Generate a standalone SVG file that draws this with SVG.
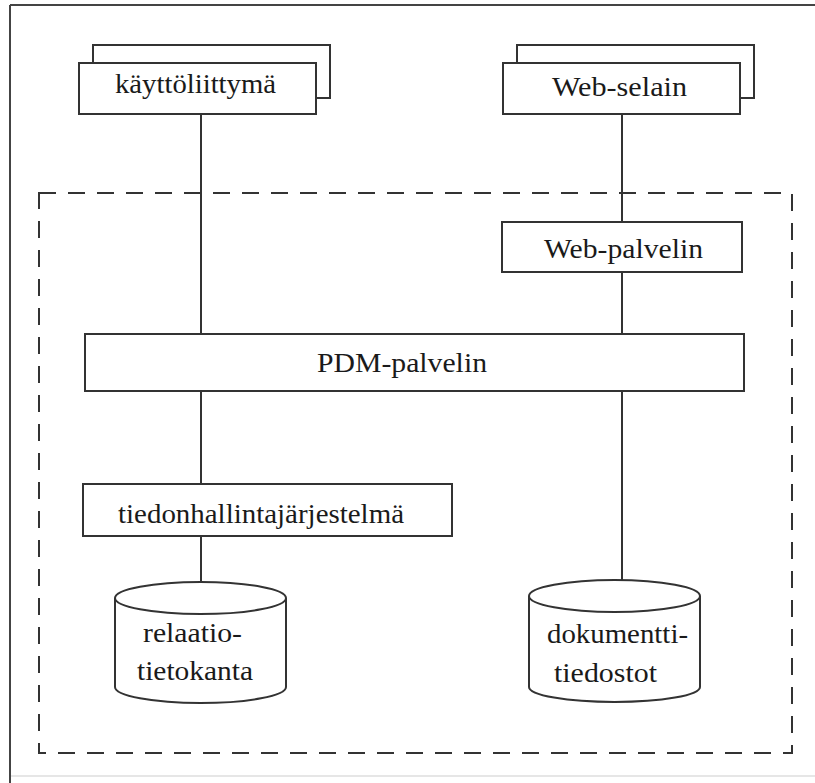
<svg xmlns="http://www.w3.org/2000/svg" width="815" height="783" viewBox="0 0 815 783">
  <style>
    .box { fill: #ffffff; stroke: #333333; stroke-width: 2; }
    .line { stroke: #333333; stroke-width: 2; fill: none; }
    .dash { stroke: #333333; stroke-width: 2; fill: none; stroke-dasharray: 17 12; }
    .lbl { font-family: 'Liberation Serif', 'DejaVu Serif', serif; font-size: 28px; fill: #1a1a1a; }
  </style>
  <rect x="0" y="0" width="815" height="783" fill="#ffffff"/>
  <g id="frame">
    <line x1="10" y1="5" x2="815" y2="5" stroke="#444444" stroke-width="2"/>
    <line x1="10" y1="5" x2="10" y2="783" stroke="#444444" stroke-width="2"/>
    <line x1="11" y1="776" x2="815" y2="776" stroke="#e6e6e6" stroke-width="2"/>
  </g>
  <g id="boundary">
    <rect class="dash" x="39" y="193" width="753" height="560"/>
  </g>
  <g id="connectors">
    <line class="line" x1="201" y1="114" x2="201" y2="334"/>
    <line class="line" x1="622" y1="114" x2="622" y2="222"/>
    <line class="line" x1="622" y1="272" x2="622" y2="334"/>
    <line class="line" x1="201" y1="391" x2="201" y2="484"/>
    <line class="line" x1="201" y1="536" x2="201" y2="582"/>
    <line class="line" x1="622" y1="391" x2="622" y2="580"/>
  </g>
  <g id="kayttoliittyma">
    <rect class="box" x="93" y="45" width="237" height="53"/>
    <rect class="box" x="79" y="63" width="237" height="51"/>
    <text class="lbl" font-family="Liberation Serif, DejaVu Serif, serif" x="115" y="93" textLength="161" lengthAdjust="spacingAndGlyphs">käyttöliittymä</text>
  </g>
  <g id="web-selain">
    <rect class="box" x="517" y="45" width="237" height="53"/>
    <rect class="box" x="503" y="63" width="237" height="51"/>
    <text class="lbl" font-family="Liberation Serif, DejaVu Serif, serif" x="552" y="96" textLength="135" lengthAdjust="spacingAndGlyphs">Web-selain</text>
  </g>
  <g id="web-palvelin">
    <rect class="box" x="502" y="222" width="240" height="50"/>
    <text class="lbl" font-family="Liberation Serif, DejaVu Serif, serif" x="544" y="258" textLength="159" lengthAdjust="spacingAndGlyphs">Web-palvelin</text>
  </g>
  <g id="pdm-palvelin">
    <rect class="box" x="85" y="334" width="659" height="57"/>
    <text class="lbl" font-family="Liberation Serif, DejaVu Serif, serif" x="317" y="372" textLength="170" lengthAdjust="spacingAndGlyphs">PDM-palvelin</text>
  </g>
  <g id="tiedonhallintajarjestelma">
    <rect class="box" x="83" y="484" width="369" height="52"/>
    <text class="lbl" font-family="Liberation Serif, DejaVu Serif, serif" x="118" y="523" textLength="286" lengthAdjust="spacingAndGlyphs">tiedonhallintajärjestelmä</text>
  </g>
  <g id="relaatiotietokanta">
    <path class="box" d="M115,598 L115,687 A85.5,16 0 0 0 286,687 L286,598 A85.5,16 0 0 0 115,598 Z"/>
    <path class="line" d="M115,598 A85.5,16 0 0 0 286,598"/>
    <text class="lbl" font-family="Liberation Serif, DejaVu Serif, serif" x="143" y="642" textLength="99" lengthAdjust="spacingAndGlyphs">relaatio-</text>
    <text class="lbl" font-family="Liberation Serif, DejaVu Serif, serif" x="137" y="680" textLength="116" lengthAdjust="spacingAndGlyphs">tietokanta</text>
  </g>
  <g id="dokumenttitiedostot">
    <path class="box" d="M529,596 L529,687 A85.5,15 0 0 0 700,687 L700,596 A85.5,16 0 0 0 529,596 Z"/>
    <path class="line" d="M529,596 A85.5,16 0 0 0 700,596"/>
    <text class="lbl" font-family="Liberation Serif, DejaVu Serif, serif" x="547" y="643" textLength="141" lengthAdjust="spacingAndGlyphs">dokumentti-</text>
    <text class="lbl" font-family="Liberation Serif, DejaVu Serif, serif" x="554" y="682" textLength="103" lengthAdjust="spacingAndGlyphs">tiedostot</text>
  </g>
</svg>
